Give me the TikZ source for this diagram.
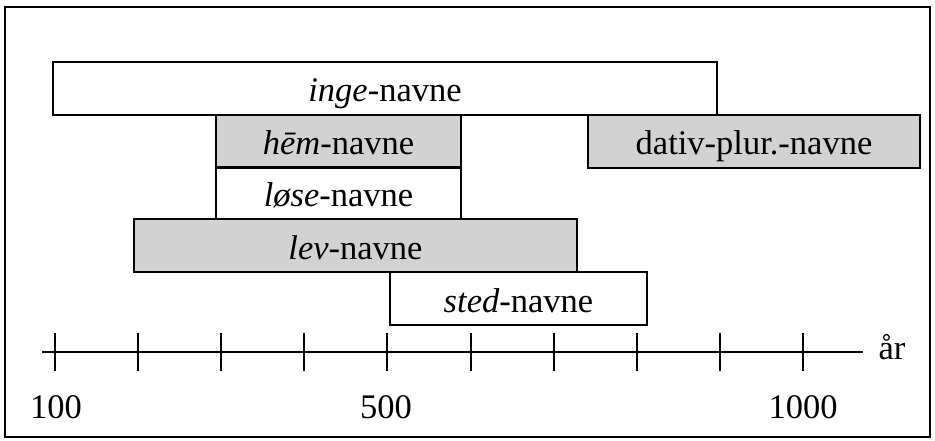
\documentclass[tikz,border=0pt]{standalone}
\usepackage{fontspec}
\setmainfont{Liberation Serif}
\begin{document}
\begin{tikzpicture}[x=1pt,y=-1pt,
  bar/.style={draw=black, line width=1.9pt, inner sep=0pt, text height=40pt, text depth=13pt,
              minimum height=53pt, font=\fontsize{34.5}{38}\selectfont},
  shaded/.style={bar, fill=gray!35},
  lbl/.style={anchor=base, inner sep=0pt, font=\fontsize{34.5}{38}\selectfont},
  axisline/.style={line width=2pt},
  frameline/.style={line width=2.3pt}]
\useasboundingbox (0,0) rectangle (935,441);
\draw[frameline] (5,7) rectangle (930,437);
% bars
\node[bar, minimum width=664pt] (inge) at (385,88.5) {\textit{inge}-navne};
\node[shaded, minimum width=245pt] (hem) at (338.5,141.5) {\textit{hēm}-navne};
\node[bar, minimum width=245pt] (lose) at (338.5,193) {\textit{løse}-navne};
\node[shaded, minimum width=443pt] (lev) at (355.5,245.5) {\textit{lev}-navne};
\node[bar, minimum width=257pt] (sted) at (518.5,298.5) {\textit{sted}-navne};
\node[shaded, minimum width=332pt] (dativ) at (754,141.5) {dativ-plur.-navne};
% axis
\coordinate (axL) at (42,352);
\coordinate (axR) at (863,352);
\draw[axisline] (axL) -- (axR);
\foreach \i in {0,...,9}{
  \coordinate (t\i) at ({55+83.1*\i},352);
  \draw[axisline] ([yshift=-19pt]t\i) -- ([yshift=19pt]t\i);
}
\node[lbl] (yr) at (892,359) {år};
\node[lbl] (l100) at (56,418) {100};
\node[lbl] (l500) at (386,418) {500};
\node[lbl] (l1000) at (803,418) {1000};
\end{tikzpicture}
\end{document}
